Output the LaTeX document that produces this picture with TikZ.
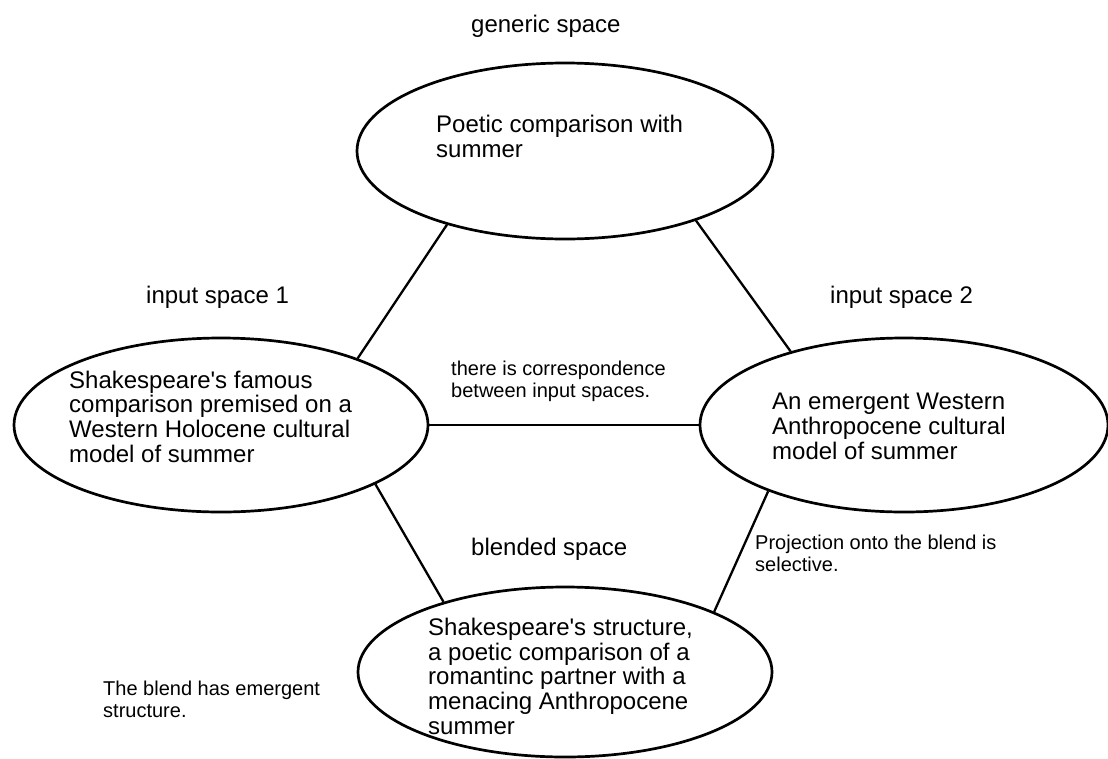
\documentclass[tikz,border=0pt]{standalone}
\usepackage{fontspec}
\setmainfont{Liberation Sans}
\usetikzlibrary{shapes.geometric}

% multi-line texts are placed by the baseline of their last line
\tikzset{
  space/.style={draw, ellipse, line width=2.7pt, inner sep=0pt},
  link/.style={line width=2.3pt},
  spacetext/.style={font=\fontsize{24}{24.6}\selectfont, align=left, inner sep=0pt, anchor=base west},
  spacename/.style={font=\fontsize{24}{24.6}\selectfont, inner sep=0pt, anchor=base west},
  remark/.style={font=\fontsize{20}{22}\selectfont, align=left, inner sep=0pt, anchor=base west},
}
\newcommand{\apos}{\textquotesingle}

\begin{document}
\begin{tikzpicture}[x=1pt,y=-1pt]
  \useasboundingbox (0,0) rectangle (1108,758);

  % the four mental spaces
  \node[space, minimum width=416pt, minimum height=176pt] (gen)   at (565,151) {};
  \node[space, minimum width=414pt, minimum height=174pt] (in1)   at (221,425) {};
  \node[space, minimum width=408pt, minimum height=174pt] (in2)   at (904,425) {};
  \node[space, minimum width=414pt, minimum height=170pt] (blend) at (565,672) {};

  % connections between the spaces
  \draw[link] (gen.212) -- (in1.26);
  \draw[link] (gen.332) -- (in2.147);
  \draw[link] (in1.0) -- (in2.180);
  \draw[link] (in1.-21) -- (blend.150);
  \draw[link] (in2.206) -- (blend.22);

  % space names
  \node[spacename] (genname)   at (471,32)  {generic space};
  \node[spacename] (in1name)   at (146,303) {input space 1};
  \node[spacename] (in2name)   at (830,303) {input space 2};
  \node[spacename] (blendname) at (471,555) {blended space};

  % contents of the spaces
  \node[spacetext] (gentext) at (436,157) {Poetic comparison with\\summer};
  \node[spacetext] (in1text) at (69,462) {Shakespeare\apos s famous\\comparison premised on a\\Western Holocene cultural\\model of summer};
  \node[spacetext] (in2text) at (772,459) {An emergent Western\\Anthropocene cultural\\model of summer};
  \node[spacetext] (blendtext) at (428,734) {Shakespeare\apos s structure,\\a poetic comparison of a\\romantinc partner with a\\menacing Anthropocene\\summer};

  % remarks
  \node[remark] (corr) at (451,397) {there is correspondence\\between input spaces.};
  \node[remark] (proj) at (755,571) {Projection onto the blend is\\selective.};
  \node[remark] (emer) at (103,717) {The blend has emergent\\structure.};
\end{tikzpicture}
\end{document}
